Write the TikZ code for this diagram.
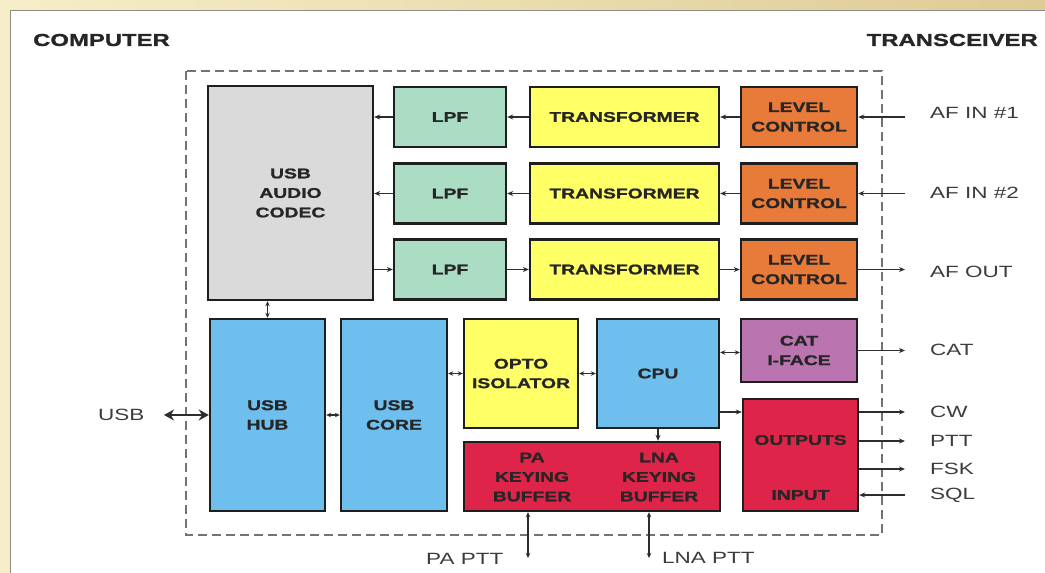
\documentclass[tikz,border=0pt]{standalone}
\usepackage{fontspec}
\setmainfont{Liberation Sans}[FakeStretch=1.38, BoldFeatures={FakeBold=1.3}]
\usetikzlibrary{arrows.meta,calc}
\definecolor{bgL}{RGB}{246,238,200}
\definecolor{bgR}{RGB}{222,203,150}
\definecolor{boxline}{RGB}{30,30,30}
\definecolor{lineclr}{RGB}{45,45,45}
\definecolor{labelclr}{RGB}{60,60,60}
\definecolor{cGray}{RGB}{218,218,218}
\definecolor{cGreen}{RGB}{170,221,196}
\definecolor{cYellow}{RGB}{255,255,102}
\definecolor{cOrange}{RGB}{232,122,58}
\definecolor{cBlue}{RGB}{110,190,238}
\definecolor{cPurple}{RGB}{186,116,176}
\definecolor{cRed}{RGB}{222,36,72}
\begin{document}
\begin{tikzpicture}[x=1pt,y=-1pt,
  blk/.style={draw=boxline, line width=2.4pt, inner sep=0pt, align=center,
    font=\fontsize{14}{19.5}\selectfont\bfseries, text=black!85},
  txt/.style={inner sep=0pt, align=center, font=\fontsize{14}{19.5}\selectfont\bfseries, text=black!85},
  arr/.style={draw=lineclr, line width=1.1pt, -{Stealth[length=6pt,width=5pt]}},
  arrb/.style={draw=lineclr, line width=1.1pt, {Stealth[length=5pt,width=4.5pt]}-{Stealth[length=5pt,width=4.5pt]}},
  arrbig/.style={draw=lineclr, line width=2.6pt, {Stealth[length=10pt,width=11pt]}-{Stealth[length=10pt,width=11pt]}},
  lbl/.style={anchor=west, inner sep=0pt, font=\fontsize{16.3}{18}\selectfont, text=labelclr},
  hdr/.style={inner sep=0pt, font=\fontsize{17.3}{20}\selectfont\bfseries, text=black!85}]
\useasboundingbox (0,0) rectangle (1045,573);
\clip (0,0) rectangle (1045,573);
\shade[left color=bgL, right color=bgR] (0,0) rectangle (1045,573);
\draw[fill=white, draw=black!45, line width=0.8pt] (10,10) rectangle (1060,590);
% dashed enclosure
\draw[draw=black!55, line width=1.4pt, dash pattern=on 9pt off 5pt] (186,71) rectangle (882,535);
% headings
\node[hdr, anchor=west] (computer) at (33,40) {COMPUTER};
\node[hdr, anchor=east] (transceiver) at (1038,40) {TRANSCEIVER};
% blocks
\node[blk, fill=cGray, minimum width=165pt, minimum height=214pt] (codec) at (290.5,193) {USB\\AUDIO\\CODEC};
\node[blk, fill=cGreen, minimum width=112pt, minimum height=60pt] (lpf1) at (450,117) {LPF};
\node[blk, fill=cGreen, minimum width=112pt, minimum height=60pt] (lpf2) at (450,193.5) {LPF};
\node[blk, fill=cGreen, minimum width=112pt, minimum height=60pt] (lpf3) at (450,269.5) {LPF};
\node[blk, fill=cYellow, minimum width=189pt, minimum height=60pt] (tr1) at (624.5,117) {TRANSFORMER};
\node[blk, fill=cYellow, minimum width=189pt, minimum height=60pt] (tr2) at (624.5,193.5) {TRANSFORMER};
\node[blk, fill=cYellow, minimum width=189pt, minimum height=60pt] (tr3) at (624.5,269.5) {TRANSFORMER};
\node[blk, fill=cOrange, minimum width=116pt, minimum height=60pt] (lc1) at (799,117) {LEVEL\\CONTROL};
\node[blk, fill=cOrange, minimum width=116pt, minimum height=60pt] (lc2) at (799,193.5) {LEVEL\\CONTROL};
\node[blk, fill=cOrange, minimum width=116pt, minimum height=60pt] (lc3) at (799,269.5) {LEVEL\\CONTROL};
\node[blk, fill=cBlue, minimum width=115pt, minimum height=192pt] (hub) at (267.5,415) {USB\\HUB};
\node[blk, fill=cBlue, minimum width=106pt, minimum height=192pt] (core) at (394,415) {USB\\CORE};
\node[blk, fill=cYellow, minimum width=114pt, minimum height=109pt] (opto) at (521,373.5) {OPTO\\ISOLATOR};
\node[blk, fill=cBlue, minimum width=122pt, minimum height=109pt] (cpu) at (658,373.5) {CPU};
\node[blk, fill=cPurple, minimum width=116pt, minimum height=63pt] (cat) at (799,350.5) {CAT\\I-FACE};
\node[blk, fill=cRed, minimum width=115pt, minimum height=112pt] (outputs) at (800.5,455) {};
\node[txt] (outtxt) at (800.5,440) {OUTPUTS};
\node[txt] (intxt) at (800.5,495) {INPUT};
\node[blk, fill=cRed, minimum width=256pt, minimum height=69pt] (key) at (592,476.5) {};
\node[txt] (keyPA) at (532,477) {PA\\KEYING\\BUFFER};
\node[txt] (keyLNA) at (659,477) {LNA\\KEYING\\BUFFER};
% external labels
\node[lbl] (afin1) at (930,113) {AF IN \#1};
\node[lbl] (afin2) at (930,193) {AF IN \#2};
\node[lbl] (afout) at (930,272) {AF OUT};
\node[lbl] (catl) at (930,350) {CAT};
\node[lbl] (cwl) at (930,412) {CW};
\node[lbl] (pttl) at (930,441) {PTT};
\node[lbl] (fskl) at (930,469) {FSK};
\node[lbl] (sqll) at (930,495) {SQL};
\node[lbl] (usbl) at (98,415) {USB};
\node[lbl] (papttl) at (426,559) {PA PTT};
\node[lbl] (lnapttl) at (662,558) {LNA PTT};
% free ends
\coordinate (e1) at (905,117);
\coordinate (e2) at (905,193.5);
\coordinate (e3) at (905,269.5);
\coordinate (e4) at (905,350.5);
\coordinate (ecw) at (905,412);
\coordinate (eptt) at (905,441);
\coordinate (efsk) at (905,469);
\coordinate (esql) at (905,495);
\coordinate (eusb) at (164,415);
\coordinate (epa) at (528,558);
\coordinate (elna) at (649,558);
% connectors rows 1,2 (incoming)
\draw[arr] (e1) -- (lc1.east);
\draw[arr] (lc1.west) -- (tr1.east);
\draw[arr] (tr1.west) -- (lpf1.east);
\draw[arr] (lpf1.west) -- (lpf1.west -| codec.east);
\draw[arr] (e2) -- (lc2.east);
\draw[arr] (lc2.west) -- (tr2.east);
\draw[arr] (tr2.west) -- (lpf2.east);
\draw[arr] (lpf2.west) -- (lpf2.west -| codec.east);
% row 3 (outgoing)
\draw[arr] (lpf3.west -| codec.east) -- (lpf3.west);
\draw[arr] (lpf3.east) -- (tr3.west);
\draw[arr] (tr3.east) -- (lc3.west);
\draw[arr] (lc3.east) -- (e3);
% lower part
\draw[arrb] (hub.north |- codec.south) -- (hub.north);
\draw[arrbig] (eusb) -- (hub.west);
\draw[arrb] (hub.east) -- (core.west);
\draw[arrb] (opto.west -| core.east) -- (opto.west);
\draw[arrb] (opto.east) -- (cpu.west);
\draw[arrb] ([yshift=-2pt]cat.west -| cpu.east) -- ([yshift=-2pt]cat.west);
\draw[arr] (cat.east) -- (e4);
\draw[arr] (cpu.east |- ecw) -- (outputs.west |- ecw);
\draw[arr] (cpu.south) -- (cpu.south |- key.north);
\draw[arr] (outputs.east |- ecw) -- (ecw);
\draw[arr] (outputs.east |- eptt) -- (eptt);
\draw[arr] (outputs.east |- efsk) -- (efsk);
\draw[arr] (esql) -- (outputs.east |- esql);
\draw[arrb, line width=1.6pt] (epa |- key.south) -- (epa);
\draw[arrb, line width=1.6pt] (elna |- key.south) -- (elna);
\end{tikzpicture}
\end{document}
